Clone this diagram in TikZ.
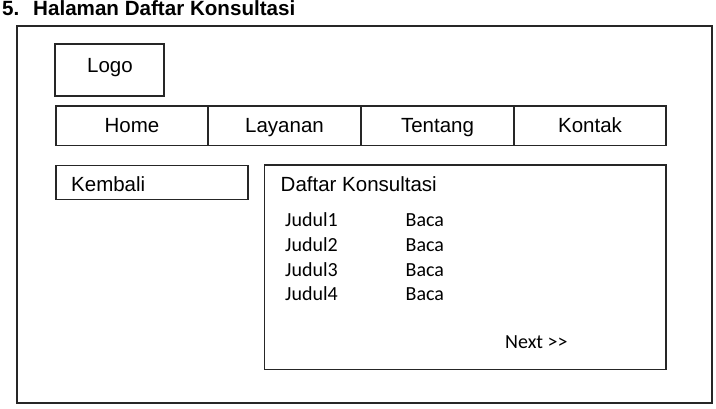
\documentclass[tikz,border=0pt]{standalone}
\usepackage{fontspec}
\setmainfont{Liberation Sans}
\newfontfamily\calibri{Carlito}
\begin{document}
\begin{tikzpicture}[x=1pt,y=-1pt,
  box/.style={draw=black!85, line width=1.2pt, inner sep=0pt, outer sep=0pt, anchor=north west},
  atext/.style={font=\fontsize{20.5}{24}\selectfont, inner sep=0pt},
  ctext/.style={font=\calibri\fontsize{20}{24}\selectfont, inner sep=0pt, anchor=base west},
  ttext/.style={font=\bfseries\fontsize{20.6}{24}\selectfont, inner sep=0pt, anchor=base west}]
\useasboundingbox (0,0) rectangle (716,408);
% title
\node[ttext] (num) at (2,15.5) {5.};
\node[ttext] (title) at (33,15.5) {Halaman Daftar Konsultasi};
% outer frame
\node[box, minimum width=695pt, minimum height=377pt] (frame) at (17,26) {};
% logo
\node[box, minimum width=109pt, minimum height=52pt] (logo) at (55,44) {};
\node[atext, anchor=base] (logot) at (110,72) {Logo};
% navigation
\node[box, minimum width=152pt, minimum height=39.5pt] (nav1) at (56,106) {};
\node[box, minimum width=153pt, minimum height=39.5pt] (nav2) at (208,106) {};
\node[box, minimum width=153pt, minimum height=39.5pt] (nav3) at (361,106) {};
\node[box, minimum width=152pt, minimum height=39.5pt] (nav4) at (514,106) {};
\node[atext, anchor=base] (home) at (132,132) {Home};
\node[atext, anchor=base] (layanan) at (284.5,132) {Layanan};
\node[atext, anchor=base] (tentang) at (437.5,132) {Tentang};
\node[atext, anchor=base] (kontak) at (590,132) {Kontak};
% kembali
\node[box, minimum width=192pt, minimum height=34pt] (kembali) at (56,165.5) {};
\node[atext, anchor=base west] (kembalit) at (71,191.5) {Kembali};
% daftar konsultasi
\node[box, minimum width=401.5pt, minimum height=204.5pt] (daftar) at (264.5,165) {};
\node[atext, anchor=base west] (daftart) at (280.5,191.5) {Daftar Konsultasi};
\node[ctext] (j1) at (285,226) {Judul1};
\node[ctext] (j2) at (285,251) {Judul2};
\node[ctext] (j3) at (285,276) {Judul3};
\node[ctext] (j4) at (285,300.5) {Judul4};
\node[ctext] (b1) at (405.5,226) {Baca};
\node[ctext] (b2) at (405.5,251) {Baca};
\node[ctext] (b3) at (405.5,276) {Baca};
\node[ctext] (b4) at (405.5,300.5) {Baca};
\node[ctext] (next) at (505,348.3) {Next >>};
\end{tikzpicture}
\end{document}
